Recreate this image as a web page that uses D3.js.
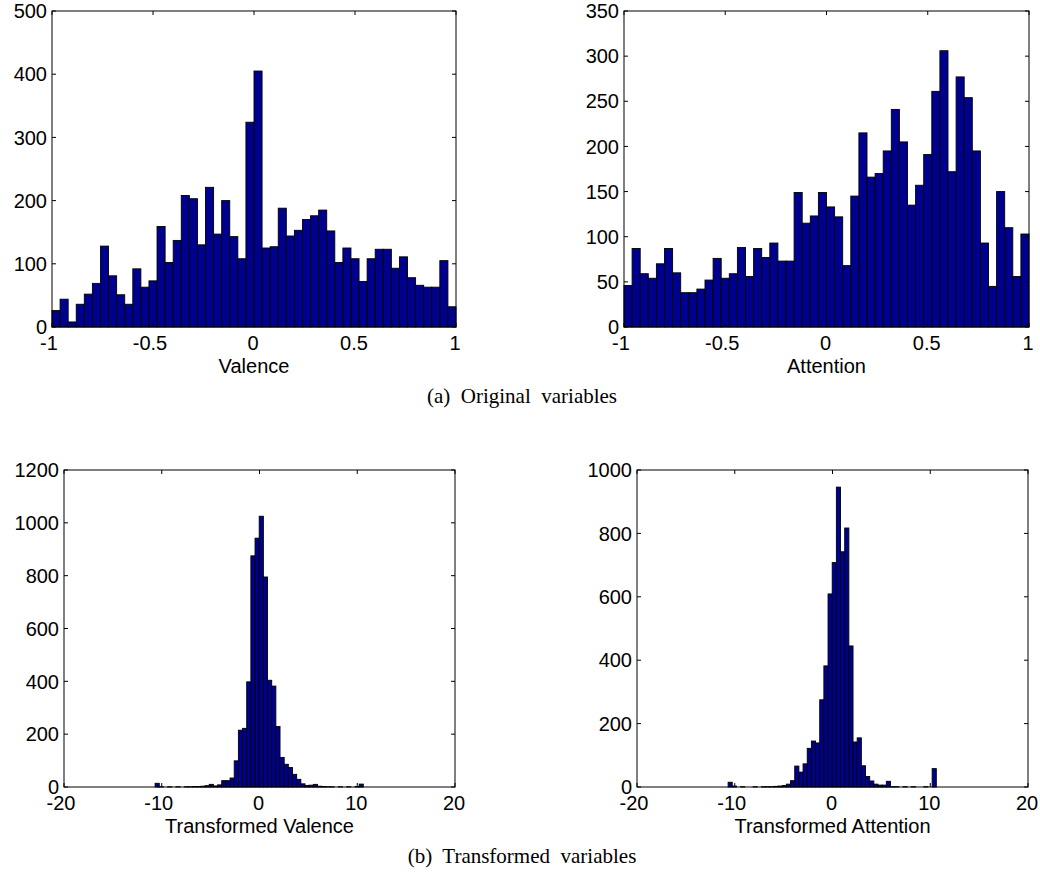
<!DOCTYPE html>
<html>
<head>
<meta charset="utf-8">
<script src="https://cdn.jsdelivr.net/npm/d3@7"></script>
<style>
  body { margin: 0; background: #fff; }
  svg text { font-family: Arial, "Liberation Sans", sans-serif; fill: #000; }
  svg text.caption { font-family: "Times New Roman", "Liberation Serif", serif; white-space: pre; }
</style>
</head>
<body>
<script>
// Histograms of original and transformed variables (50 bins each)

const width = 1040;
const height = 873;

// bin counts
const valenceCounts = [26, 44, 8, 36, 52, 69, 128, 81, 51, 36, 92, 63, 73, 159, 102, 137, 208, 203, 130, 221,
    147, 200, 143, 108, 324, 405, 125, 127, 188, 144, 153, 170, 176, 185, 152, 102, 125, 108, 72, 108,
    123, 123, 93, 111, 78, 66, 63, 63, 105, 32];
const attentionCounts = [46, 87, 59, 54, 70, 87, 60, 38, 38, 42, 52, 76, 54, 59, 88, 56, 87, 77, 93, 73,
    73, 149, 115, 123, 149, 133, 122, 68, 145, 215, 166, 170, 195, 241, 205, 135, 157, 191, 261, 306,
    172, 277, 254, 195, 93, 45, 150, 110, 56, 103];
const tValenceCounts = [14, 1, 0, 1, 0, 1, 0, 1, 1, 2, 2, 3, 5, 10, 4, 8, 24, 24, 34, 99,
    215, 222, 398, 875, 942, 1025, 795, 404, 382, 229, 112, 86, 74, 48, 29, 12, 6, 7, 10, 3,
    2, 1, 1, 0, 1, 0, 1, 0, 2, 11];
const tAttentionCounts = [15, 3, 0, 1, 0, 0, 1, 0, 1, 1, 1, 2, 3, 5, 9, 20, 66, 47, 73, 122,
    145, 139, 275, 382, 609, 708, 946, 742, 817, 445, 142, 155, 67, 33, 19, 9, 6, 6, 18, 1,
    1, 0, 1, 0, 1, 0, 0, 1, 0, 58];

// bin ranges (data units)
const originalBinRange = [-1, 1];
const transformedBinRange = [-10.68, 10.62];

// axis ticks
const originalXTicks = [-1, -0.5, 0, 0.5, 1];
const transformedXTicks = [-20, -10, 0, 10, 20];
const valenceYTicks = [0, 100, 200, 300, 400, 500];
const attentionYTicks = [0, 50, 100, 150, 200, 250, 300, 350];
const tValenceYTicks = [0, 200, 400, 600, 800, 1000, 1200];
const tAttentionYTicks = [0, 200, 400, 600, 800, 1000];

const axisLabels = ["Valence", "Attention", "Transformed Valence", "Transformed Attention"];
const captions = ["(a)  Original  variables", "(b)  Transformed  variables"];

const svg = d3.select("body")
    .append("svg")
    .attr("width", width)
    .attr("height", height);

// panel layout
const panels = [
    { counts: valenceCounts, bins: originalBinRange, xDomain: [-1, 1], xTicks: originalXTicks,
      yTicks: valenceYTicks, label: axisLabels[0], left: 52, top: 11, w: 404, h: 316 },
    { counts: attentionCounts, bins: originalBinRange, xDomain: [-1, 1], xTicks: originalXTicks,
      yTicks: attentionYTicks, label: axisLabels[1], left: 624, top: 11, w: 405, h: 316 },
    { counts: tValenceCounts, bins: transformedBinRange, xDomain: [-20, 20], xTicks: transformedXTicks,
      yTicks: tValenceYTicks, label: axisLabels[2], left: 64, top: 470, w: 391, h: 317 },
    { counts: tAttentionCounts, bins: transformedBinRange, xDomain: [-20, 20], xTicks: transformedXTicks,
      yTicks: tAttentionYTicks, label: axisLabels[3], left: 637, top: 470, w: 391, h: 317 }
];

const tickLen = 4;

panels.forEach(p => {
    const g = svg.append("g").attr("transform", `translate(${p.left},${p.top})`);

    const x = d3.scaleLinear().domain(p.xDomain).range([0, p.w]);
    const y = d3.scaleLinear().domain(d3.extent(p.yTicks)).range([p.h, 0]);

    const binWidth = (p.bins[1] - p.bins[0]) / p.counts.length;
    const bins = p.counts.map((c, i) => ({
        x0: p.bins[0] + i * binWidth,
        x1: p.bins[0] + (i + 1) * binWidth,
        count: c
    }));

    // bars
    g.selectAll("rect.bar")
        .data(bins)
        .join("rect")
        .attr("class", "bar")
        .attr("x", d => x(d.x0))
        .attr("width", d => x(d.x1) - x(d.x0))
        .attr("y", d => y(d.count))
        .attr("height", d => y(0) - y(d.count))
        .attr("fill", "#00008f")
        .attr("stroke", "#000")
        .attr("stroke-width", 0.9);

    // tick marks, inward on all four sides
    g.selectAll("line.xtick-b")
        .data(p.xTicks)
        .join("line")
        .attr("x1", d => x(d)).attr("x2", d => x(d))
        .attr("y1", p.h).attr("y2", p.h - tickLen)
        .attr("stroke", "#000");
    g.selectAll("line.xtick-t")
        .data(p.xTicks)
        .join("line")
        .attr("class", "xtick-t")
        .attr("x1", d => x(d)).attr("x2", d => x(d))
        .attr("y1", 0).attr("y2", tickLen)
        .attr("stroke", "#000");
    g.selectAll("line.ytick-l")
        .data(p.yTicks)
        .join("line")
        .attr("class", "ytick-l")
        .attr("x1", 0).attr("x2", tickLen)
        .attr("y1", d => y(d)).attr("y2", d => y(d))
        .attr("stroke", "#000");
    g.selectAll("line.ytick-r")
        .data(p.yTicks)
        .join("line")
        .attr("class", "ytick-r")
        .attr("x1", p.w).attr("x2", p.w - tickLen)
        .attr("y1", d => y(d)).attr("y2", d => y(d))
        .attr("stroke", "#000");

    // box
    g.append("rect")
        .attr("width", p.w)
        .attr("height", p.h)
        .attr("fill", "none")
        .attr("stroke", "#000")
        .attr("stroke-width", 1);

    // tick labels
    g.selectAll("text.xlab")
        .data(p.xTicks)
        .join("text")
        .attr("class", "xlab")
        .attr("x", d => x(d) - (d < 0 ? 3 : 1))
        .attr("y", p.h + 23)
        .attr("text-anchor", "middle")
        .attr("font-size", 20)
        .text(d => String(d));
    g.selectAll("text.ylab")
        .data(p.yTicks)
        .join("text")
        .attr("class", "ylab")
        .attr("x", -5)
        .attr("y", d => y(d))
        .attr("dy", "0.36em")
        .attr("text-anchor", "end")
        .attr("font-size", 20)
        .text(d => String(d));

    // axis label
    g.append("text")
        .attr("x", p.w / 2)
        .attr("y", p.h + 46)
        .attr("text-anchor", "middle")
        .attr("font-size", 20)
        .text(p.label);
});

// sub-figure captions
svg.selectAll("text.caption")
    .data(captions)
    .join("text")
    .attr("class", "caption")
    .attr("x", 522)
    .attr("y", (d, i) => i === 0 ? 403 : 863)
    .attr("text-anchor", "middle")
    .attr("font-size", 21)
    .text(d => d);
</script>
</body>
</html>
